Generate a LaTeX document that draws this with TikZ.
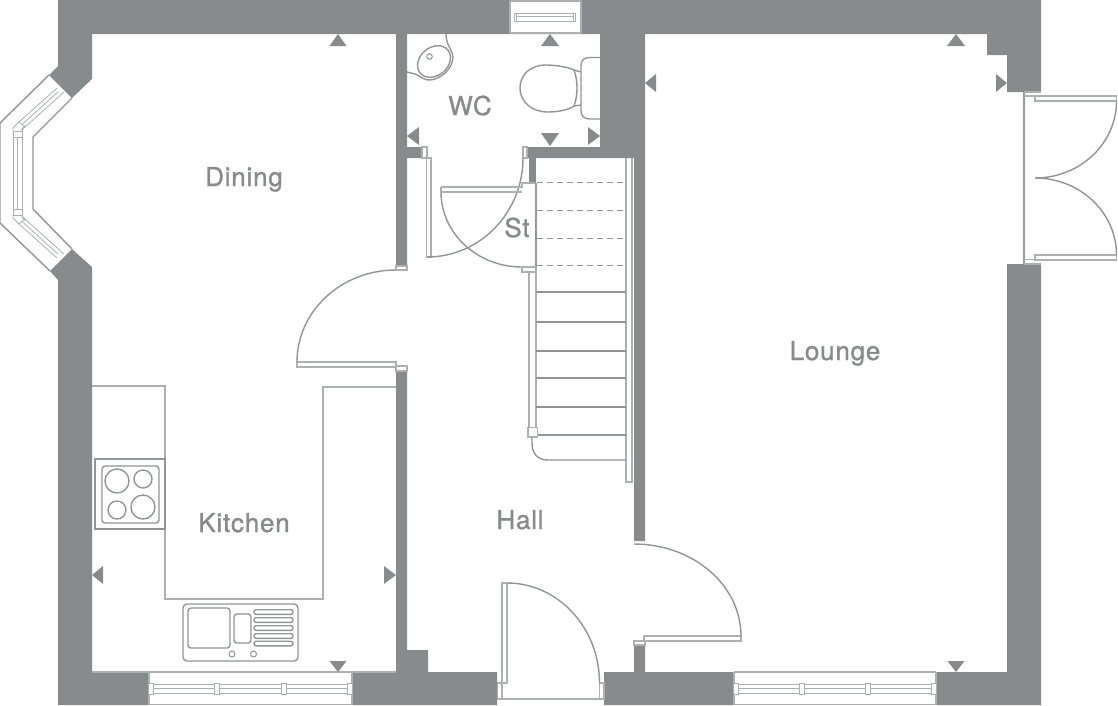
\documentclass[tikz,border=0pt]{standalone}
\usepackage{fontspec}
\newfontfamily\lblfont[LetterSpace=3,RawFeature={embolden=1.1}]{TeX Gyre Heros}
\definecolor{wallc}{HTML}{888B8B}
\definecolor{linec}{HTML}{929595}
\definecolor{lightc}{HTML}{ADB0B0}
\newcommand{\qarc}[6]{(#1,#2) .. controls ({#1+.5523*(#3-#5)},{#2+.5523*(#4-#6)}) and ({#3+.5523*(#1-#5)},{#4+.5523*(#2-#6)}) .. (#3,#4)}
\begin{document}
\begin{tikzpicture}[x=1pt,y=-1pt,
  wall/.style={fill=wallc,draw=none},
  ln/.style={draw=linec,line width=1.4pt,line join=miter},
  lt/.style={draw=lightc,line width=1.3pt},
  thin line/.style={draw=lightc,line width=.8pt},
  fixture/.style={draw=linec,line width=1.4pt,fill=none},
  box/.style={draw=lightc,line width=1.3pt,fill=white},
  marker/.style={fill=wallc,draw=none},
  lbl/.style={text=wallc,font=\lblfont\fontsize{26}{28}\selectfont,anchor=base,inner sep=0pt}]
\useasboundingbox (0,0) rectangle (1118,705);
\fill[white] (0,0) rectangle (1118,705);
% walls
\fill[wall] (58,0) -- (1041,0) -- (1041,92) -- (1007,92) -- (1007,55) -- (987,55) -- (987,34) -- (645,34) -- (645,541) -- (634,541) -- (634,158) -- (527,158) -- (527,147) -- (600,147) -- (600,34) -- (407,34) -- (407,147) -- (422,147) -- (422,158) -- (407,158) -- (407,266) -- (396,266) -- (396,34) -- (92,34) -- (92,79) -- (72,98) -- (49,75) -- (58,66) -- cycle;
\fill[wall] (529,158) rectangle (536,183);
\fill[wall] (50,271) -- (72,249) -- (92,267) -- (92,672) -- (148,672) -- (148,705) -- (58,705) -- (58,280) -- cycle;
\fill[wall] (396,371) -- (407,371) -- (407,650) -- (428,650) -- (428,672) -- (497,672) -- (497,705) -- (353,705) -- (353,672) -- (396,672) -- cycle;
\fill[wall] (604,672) -- (634,672) -- (634,645) -- (645,645) -- (645,672) -- (733,672) -- (733,705) -- (604,705) -- cycle;
\fill[wall] (937,672) -- (1007,672) -- (1007,264) -- (1041,264) -- (1041,705) -- (937,705) -- cycle;
% top window
\fill[white] (510,1) rectangle (581,33);
\draw[lt] (510,1) -- (581,1) (510,33) -- (581,33) (510,1) -- (510,33) (581,1) -- (581,33);
\draw[thin line] (514.5,13) rectangle (575.5,21) (516.5,13) -- (516.5,21) (573.5,13) -- (573.5,21) (516.5,16.5) -- (573.5,16.5);
% bottom windows
\foreach \xa/\xb/\ma/\mb/\mc/\md in {149/352/151/217/284/350, 734/936/736/802/868/934}{
  \fill[white] (\xa,672) rectangle (\xb,705);
  \draw[lt] (\xa,672) -- (\xb,672) (\xa,704.5) -- (\xb,704.5) (\xa,672) -- (\xa,705) (\xb,672) -- (\xb,705);
  \draw[thin line] (\ma,688) -- (\md,688) (\ma,684) -- (\md,684) (\ma,693) -- (\md,693);
  \foreach \m in {\ma,\mb,\mc,\md}{\draw[thin line,fill=white] (\m-2.5,683) rectangle (\m+2.5,694);}
}
\draw[lt] (92,672) -- (149,672) (352,672) -- (396,672);
% bay window
\draw[ln] (49,75) -- (0,123) -- (0,223) -- (50,271);
\draw[ln] (72,98) -- (33,137) -- (33,209) -- (72,249);
\draw[thin line] (13,131) rectangle (22,137) (13,209) rectangle (22,215);
\draw[thin line] (13,137) -- (13,209) (22,137) -- (22,209) (17.5,137) -- (17.5,209);
\draw[thin line] (13,131) -- (13,128) -- (19,122) (22,131) -- (22,129) -- (25,125.5);
\draw[thin line] (13,215) -- (13,218) -- (19,224) (22,215) -- (22,217) -- (25,220.5);
\draw[thin line] (19,122) -- (25,127) -- (21,131);
\draw[thin line] (19,224) -- (25,219) -- (21,215);
\draw[thin line] (19,122) -- (57,88) (25,127) -- (64,92) (22,124.5) -- (58,92);
\draw[thin line] (19,224) -- (57,258) (25,219) -- (64,254) (22,221.5) -- (58,254);
% frame stubs
\draw[box] (396,266) rectangle (407,270);
\draw[box] (396,366) rectangle (407,371);
\draw[box] (422,147) rectangle (427,158);
\draw[box] (523,147) rectangle (527,158);
% dining door
\draw[box] (297,362) rectangle (396,367);
\draw[ln] \qarc{297}{362}{396}{270}{396}{362};
% WC door
\draw[box] (426.5,158) rectangle (431,257);
\draw[ln] \qarc{427}{257}{523}{158}{427}{158};
% St door
\draw[lt] (441,187) -- (522,187) -- (522,183) -- (536,183) (441,192) -- (522,192) (441,187) -- (441,192);
\draw[ln] \qarc{441}{192}{522}{267}{522}{192};
\draw[ln] (536,183) -- (536,267);
\draw[lt] (522,267) -- (536,267) -- (536,272) -- (522,272) -- cycle;
% stairs
\draw[lt] (529,272) -- (529,427) (536,272) -- (536,427);
\draw[lt] (626,158) -- (626,482) -- (632,482) -- (632,158);
\foreach \y in {182,210,238,265}{\draw[draw=linec,line width=1pt,dash pattern=on 6pt off 4pt] (537,\y) -- (626,\y);}
\foreach \y in {292,322,351,378,407,435}{\draw[ln] (536,\y) -- (626,\y);}
\draw[box] (528,427.5) rectangle (537.5,437);
\draw[ln] (532,437) -- (532,443) .. controls (532,454) and (538,460) .. (548,460) -- (626,460);
% lounge door
\draw[box] (634,641) rectangle (645,645);
\draw[lt] (644,636) rectangle (741,641);
\draw[ln] \qarc{741}{636}{634}{544}{634}{636};
% front door
\draw[box] (497.5,683) rectangle (502,699);
\draw[box] (599.5,683) rectangle (604,699);
\draw[lt] (502,699) -- (599.5,699);
\draw[box] (502,583) rectangle (507,683);
\draw[ln] \qarc{507}{583}{599.5}{683}{507}{683};
% patio doors
\draw[ln] (1024,92) -- (1024,264);
\draw[lt] (1024,96) -- (1035,96) (1024,92) -- (1041,92) (1035,96) -- (1035,101);
\draw[lt] (1024,264) -- (1041,264) (1024,259.5) -- (1035,259.5) (1035,255) -- (1035,259.5);
\draw[lt] (1035,96) rectangle (1116.5,101);
\draw[lt] (1035,255) rectangle (1116.5,260);
\draw[ln] \qarc{1116.5}{101}{1035}{178}{1035}{101};
\draw[ln] \qarc{1116.5}{255}{1035}{178}{1035}{255};
% kitchen counters
\draw[lt] (92,386) -- (165,386) -- (165,599) -- (323,599) -- (323,387) -- (396,387);
% hob
\draw[fixture] (95,459) rectangle (165,529);
\draw[fixture,rounded corners=3pt] (102,466) rectangle (159,523);
\draw[fixture] (117,481) circle[radius=12] (143,479) circle[radius=9] (117,510) circle[radius=9] (143,507) circle[radius=12];
% sink
\draw[fixture,rounded corners=4pt] (183,604) rectangle (298,661);
\draw[fixture,rounded corners=3pt] (188,608) rectangle (230,648);
\draw[fixture,rounded corners=3pt] (234,614) rectangle (251,643);
\foreach \y in {612,620,628,636,643.5}{\draw[fixture,rounded corners=2pt] (254,\y-2.3) rectangle (293,\y+2.3);}
\draw[fixture,line width=1pt] (232,654) circle[radius=3] (253.5,654) circle[radius=3];
% toilet
\draw[fixture] (600,57.5) -- (590,57.5) .. controls (584,57.5) and (581,60) .. (581,66) -- (581,110) .. controls (581,116) and (584,119) .. (590,119) -- (600,119);
\draw[fixture] (581,72) -- (574,70) (581,105) -- (574,106);
\draw[fixture] (574,70) .. controls (568,67) and (555,65) .. (546,65) .. controls (530,65) and (520,75) .. (520,88) .. controls (520,102) and (532,112) .. (548,112) .. controls (558,112) and (568,110) .. (574,106) .. controls (578,96) and (578,80) .. (574,70);
% basin
\draw[fixture] (407,72) -- (415,74) .. controls (420,76) and (424,80) .. (429,80) .. controls (441,80) and (453,68) .. (453,57) .. controls (453,50) and (446,46) .. (446,34);
\draw[fixture,rotate around={40:(434,61.5)}] (434,61.5) ellipse[x radius=18,y radius=14];
\draw[fixture,line width=1pt] (429.5,56.5) circle[radius=2.8];
% markers
\fill[marker] (338,34) -- (346.5,46) -- (329.5,46) -- cycle;
\fill[marker] (550,34) -- (559,46) -- (541,46) -- cycle;
\fill[marker] (956,34) -- (965,46) -- (947,46) -- cycle;
\fill[marker] (645,83) -- (656,74) -- (656,92) -- cycle;
\fill[marker] (600,136) -- (588,127) -- (588,145) -- cycle;
\fill[marker] (407,136) -- (419,127) -- (419,145) -- cycle;
\fill[marker] (550,146) -- (541,133) -- (559,133) -- cycle;
\fill[marker] (1007,83) -- (996,74) -- (996,92) -- cycle;
\fill[marker] (92,575) -- (103,566) -- (103,584) -- cycle;
\fill[marker] (396,575) -- (384,566) -- (384,584) -- cycle;
\fill[marker] (338,672) -- (329.5,661) -- (346.5,661) -- cycle;
\fill[marker] (956,672) -- (947.5,661) -- (964.5,661) -- cycle;
% labels
\node[lbl] (dining) at (244,186) {Dining};
\node[lbl] (lounge) at (835,360) {Lounge};
\node[lbl] (wc) at (470,115) {WC};
\node[lbl] (st) at (517,237) {St};
\node[lbl] (kitchen) at (244,532) {Kitchen};
\node[lbl] (hall) at (520,529) {Hall};
\end{tikzpicture}
\end{document}
